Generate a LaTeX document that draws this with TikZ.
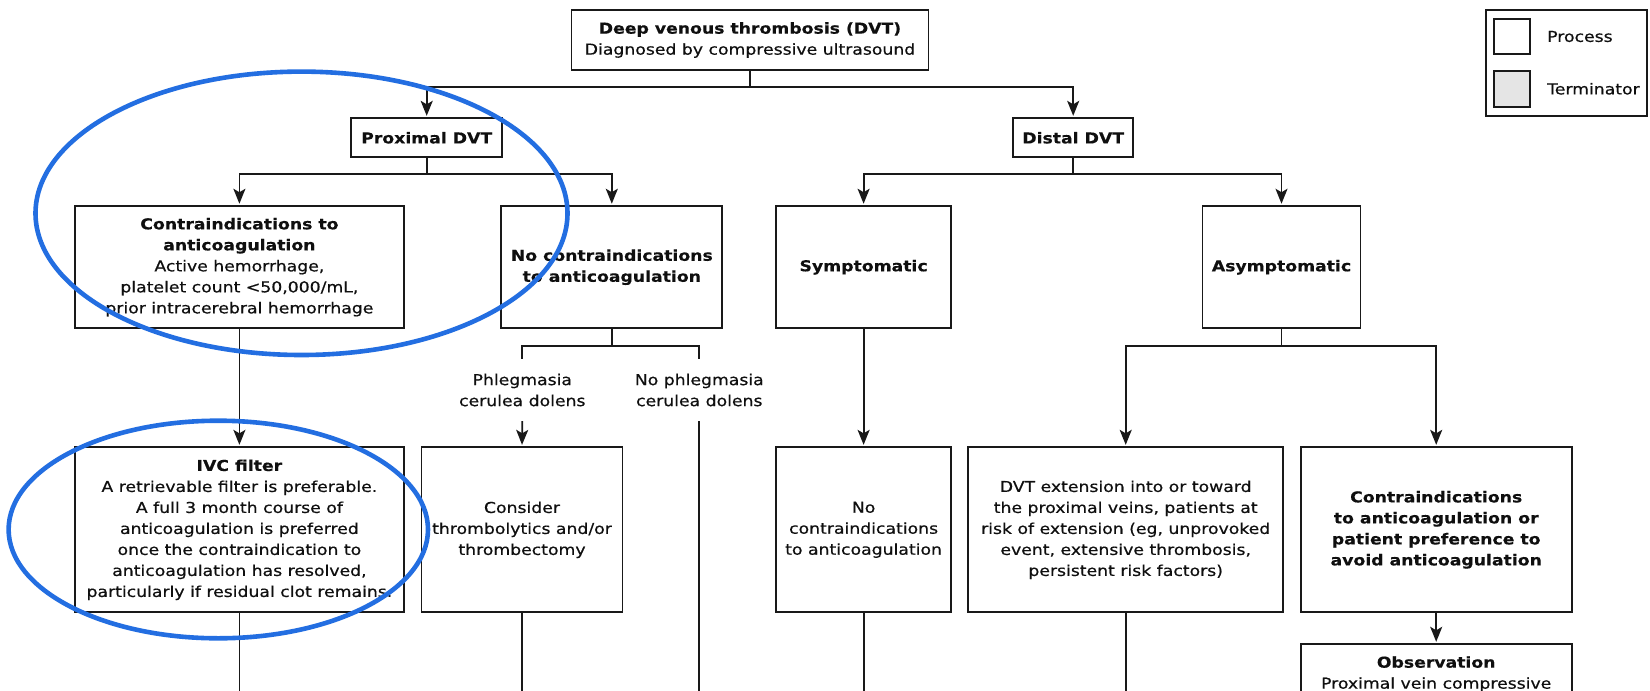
\documentclass[tikz,border=0pt]{standalone}
\usepackage{fontspec}
\setmainfont{DejaVu Sans}[FakeStretch=1.15, UprightFeatures={FakeBold=0.5}, BoldFeatures={FakeBold=0.3}]
\usetikzlibrary{arrows.meta}
\definecolor{ink}{RGB}{15,15,15}
\definecolor{edge}{RGB}{25,25,25}
\definecolor{hilite}{RGB}{35,110,225}
\definecolor{termfill}{RGB}{229,229,229}

\begin{document}
\begin{tikzpicture}[x=1pt,y=-1pt,
  every node/.style={font=\fontsize{15}{21}\selectfont, text=ink},
  box/.style={draw=edge, line width=1.9pt, fill=white, inner sep=0pt, align=center},
  lbl/.style={inner sep=0pt, align=center},
  link/.style={draw=edge, line width=1.8pt},
  arr/.style={link, shorten >=1.5pt, -{Stealth[length=15pt,width=12pt,inset=3.5pt]}},
  ring/.style={draw=hilite, line width=4.6pt}
]
\useasboundingbox (0,0) rectangle (1650,691);
\clip (0,0) rectangle (1650,691);
\fill[white] (0,0) rectangle (1650,691);

% ---- top level ----
\node[box, minimum width=357pt, minimum height=60pt] (top) at (750,40)
  {\textbf{Deep venous thrombosis (DVT)}\\Diagnosed by compressive ultrasound};
\node[box, minimum width=151pt, minimum height=39pt] (prox) at (426.7,137.8) {\textbf{Proximal DVT}};
\node[box, minimum width=120pt, minimum height=39pt] (dist) at (1073.2,137.8) {\textbf{Distal DVT}};

% ---- second level ----
\node[box, minimum width=329pt, minimum height=122pt] (contra) at (239.4,267.2)
  {\textbf{Contraindications to}\\\textbf{anticoagulation}\\Active hemorrhage,\\platelet count <50,000/mL,\\prior intracerebral hemorrhage};
\node[box, minimum width=221pt, minimum height=122pt] (nocontra) at (611.8,267.2)
  {\textbf{No contraindications}\\\textbf{to anticoagulation}};
\node[box, minimum width=175.4pt, minimum height=122pt] (sympt) at (863.6,267.2) {\textbf{Symptomatic}};
\node[box, minimum width=158pt, minimum height=122pt] (asympt) at (1281.5,267.2) {\textbf{Asymptomatic}};

% ---- branch labels ----
\node[lbl, minimum height=62pt] (phl) at (522.3,390) {Phlegmasia\\cerulea dolens};
\node[lbl, minimum height=62pt] (nophl) at (699.3,390) {No phlegmasia\\cerulea dolens};

% ---- third level ----
\node[box, minimum width=329pt, minimum height=165pt] (ivc) at (239.4,529.8)
  {\textbf{IVC filter}\\A retrievable filter is preferable.\\A full 3 month course of\\anticoagulation is preferred\\once the contraindication to\\anticoagulation has resolved,\\particularly if residual clot remains.};
\node[box, minimum width=201pt, minimum height=165pt] (consider) at (522,529.8)
  {Consider\\thrombolytics and/or\\thrombectomy};
\node[box, minimum width=175.4pt, minimum height=165pt] (nocontra2) at (863.6,529.8)
  {No\\contraindications\\to anticoagulation};
\node[box, minimum width=315pt, minimum height=165pt] (dvtext) at (1125.7,529.8)
  {DVT extension into or toward\\the proximal veins, patients at\\risk of extension (eg, unprovoked\\event, extensive thrombosis,\\persistent risk factors)};
\node[box, minimum width=271pt, minimum height=165pt] (contra2) at (1436.2,529.8)
  {\textbf{Contraindications}\\\textbf{to anticoagulation or}\\\textbf{patient preference to}\\\textbf{avoid anticoagulation}};
\node[box, anchor=north, minimum width=271pt, inner ysep=12pt] (obs) at (1436.2,643.3)
  {\textbf{Observation}\\Proximal vein compressive};

% ---- legend ----
\node[box, minimum width=161pt, minimum height=105.7pt] (legend) at (1566.5,62.85) {};
\node[box, minimum width=36pt, minimum height=35pt] (procsw) at (1512.3,36.5) {};
\node[box, fill=termfill, minimum width=36pt, minimum height=35.7pt] (termsw) at (1512.3,88.85) {};
\node[lbl, anchor=west] (proctxt) at (1547,36.5) {Process};
\node[lbl, anchor=west] (termtxt) at (1547,88.8) {Terminator};

% ---- connectors ----
\coordinate (j1) at (750,87.3);
\draw[link] (top.south) -- (j1);
\draw[arr] (j1) -| (prox.north);
\draw[arr] (j1) -| (dist.north);

\coordinate (j2) at (426.7,174);
\draw[link] (prox.south) -- (j2);
\draw[arr] (j2) -| (contra.north);
\draw[arr] (j2) -| (nocontra.north);

\coordinate (j3) at (1073.2,174);
\draw[link] (dist.south) -- (j3);
\draw[arr] (j3) -| (sympt.north);
\draw[arr] (j3) -| (asympt.north);

\draw[arr] (contra.south) -- (ivc.north);

\coordinate (j4) at (611.8,346);
\draw[link] (nocontra.south) -- (j4);
\draw[link] (j4) -| (phl.north);
\draw[link] (j4) -| (nophl.north);
\draw[arr] (phl.south) -- (consider.north);

\draw[arr] (sympt.south) -- (nocontra2.north);

\coordinate (j5) at (1281.5,346);
\draw[link] (asympt.south) -- (j5);
\draw[arr] (j5) -| (dvtext.north);
\draw[arr] (j5) -| (contra2.north);
\draw[arr] (contra2.south) -- (obs.north);

% lines running on below the lower edge
\coordinate (ivcend) at (239.4,720);
\coordinate (considerend) at (522,720);
\coordinate (nophlend) at (699.3,720);
\coordinate (nocontraend) at (863.6,720);
\coordinate (dvtextend) at (1125.7,720);
\draw[link] (ivc.south) -- (ivcend);
\draw[link] (consider.south) -- (considerend);
\draw[link] (nophl.south) -- (nophlend);
\draw[link] (nocontra2.south) -- (nocontraend);
\draw[link] (dvtext.south) -- (dvtextend);

% ---- highlight rings ----
\draw[ring] (301.5,213.3) ellipse [x radius=266pt, y radius=141.7pt];
\draw[ring] (218.3,529.5) ellipse [x radius=209.7pt, y radius=108.8pt];
\end{tikzpicture}
\end{document}
